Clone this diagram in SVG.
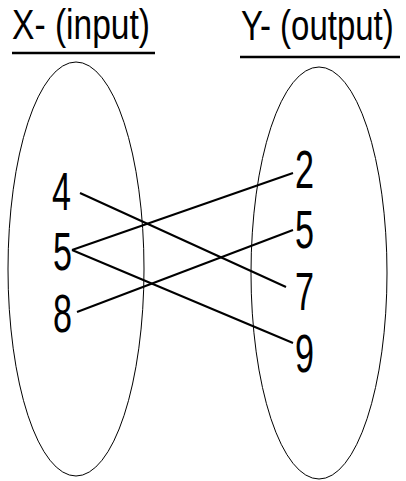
<svg xmlns="http://www.w3.org/2000/svg" width="406" height="481" viewBox="0 0 406 481">
<style>
.t{font-family:"Liberation Sans",Arial,sans-serif;fill:#000}
.title{font-size:42px}
.num{font-size:53px}
.ul{stroke:#000;stroke-width:2.5}
.set{fill:none;stroke:#000;stroke-width:1}
.c{stroke:#000;stroke-width:2;fill:none}
</style>
<rect width="406" height="481" fill="#fff"/>
<g id="title-x">
<text class="t title" x="12" y="39" textLength="138" lengthAdjust="spacingAndGlyphs">X- (input)</text>
<line class="ul" x1="12" y1="53" x2="155" y2="53"/>
</g>
<g id="title-y">
<text class="t title" transform="translate(241,40) scale(0.785,1)" x="0" y="0">Y- (output)</text>
<line class="ul" x1="240" y1="57" x2="400" y2="57"/>
</g>
<g id="set-x"><ellipse class="set" cx="76" cy="269" rx="68" ry="207"/></g>
<g id="set-y"><ellipse class="set" cx="319" cy="273" rx="68" ry="206"/></g>
<g id="connectors">
<line class="c" x1="80" y1="193" x2="286" y2="287"/>
<line class="c" x1="72" y1="250" x2="293" y2="173"/>
<line class="c" x1="72" y1="250" x2="293" y2="343"/>
<line class="c" x1="77" y1="312" x2="293" y2="230"/>
</g>
<g id="x-4"><text class="t num" x="52" y="210" textLength="19" lengthAdjust="spacingAndGlyphs">4</text></g>
<g id="x-5"><text class="t num" x="53" y="270" textLength="19" lengthAdjust="spacingAndGlyphs">5</text></g>
<g id="x-8"><text class="t num" x="53" y="332" textLength="19" lengthAdjust="spacingAndGlyphs">8</text></g>
<g id="y-2"><text class="t num" x="295" y="188" textLength="19" lengthAdjust="spacingAndGlyphs">2</text></g>
<g id="y-5"><text class="t num" x="295" y="248" textLength="19" lengthAdjust="spacingAndGlyphs">5</text></g>
<g id="y-7"><text class="t num" x="295" y="310" textLength="19" lengthAdjust="spacingAndGlyphs">7</text></g>
<g id="y-9"><text class="t num" x="295" y="372" textLength="19" lengthAdjust="spacingAndGlyphs">9</text></g>
</svg>
